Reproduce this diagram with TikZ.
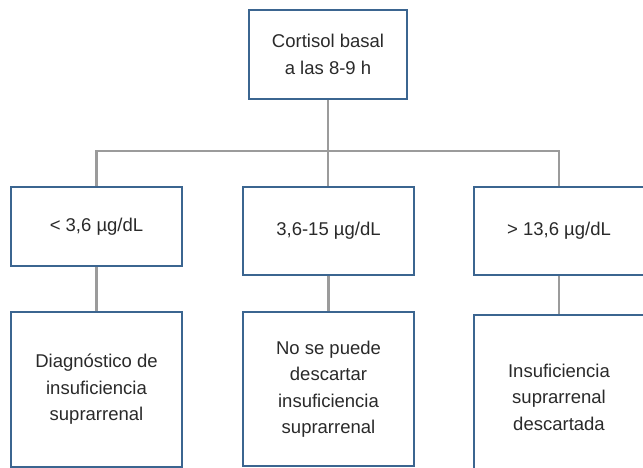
\documentclass[tikz,border=0pt]{standalone}
\usepackage{fontspec}
\setmainfont{Liberation Sans}
\usetikzlibrary{backgrounds}
\definecolor{boxblue}{HTML}{3B6590}
\definecolor{linegray}{HTML}{9B9B9B}
\definecolor{txt}{HTML}{2A2A2A}
\begin{document}
\begin{tikzpicture}[x=1pt,y=-1pt,
  box/.style={draw=boxblue, line width=2.8pt, fill=white, align=center, text=txt,
    font=\fontsize{18.5pt}{26.5pt}\selectfont, inner sep=0pt},
  conn/.style={draw=linegray, line width=2.2pt}]
\useasboundingbox (0,0) rectangle (643,468);
\clip (0,0) rectangle (643,468);
% boxes
\node[box, minimum width=158pt, minimum height=89pt] (top) at (328,54.5) {Cortisol basal\\a las 8-9 h};
\node[box, minimum width=171pt, minimum height=79pt] (L1) at (96.5,226.5) {< 3,6 µg/dL};
\node[box, minimum width=171pt, minimum height=88pt] (M1) at (328.5,231) {3,6-15 µg/dL};
\node[box, minimum width=170pt, minimum height=88pt] (R1) at (559,231) {> 13,6 µg/dL};
\node[box, minimum width=171pt, minimum height=155pt] (L2) at (96.5,389.5) {Diagnóstico de\\insuficiencia\\suprarrenal};
\node[box, minimum width=171pt, minimum height=154pt] (M2) at (328.5,389) {No se puede\\descartar\\insuficiencia\\suprarrenal};
\node[box, minimum width=170pt, minimum height=164pt] (R2) at (559,397) {Insuficiencia\\suprarrenal\\descartada};
\coordinate (bus) at (328,151);
% connectors
\begin{pgfonlayer}{background}
\fill[white] (0,0) rectangle (643,468);
\path[conn] (top.south) -- (top.south |- M1.north);
\path[conn] (L1.north) -- (L1.north |- bus) -- (R1.north |- bus) -- (R1.north);
\path[conn] (L1.south) -- (L2.north);
\path[conn] (M1.south) -- (M2.north);
\path[conn] (R1.south) -- (R2.north);
\end{pgfonlayer}
\end{tikzpicture}
\end{document}
